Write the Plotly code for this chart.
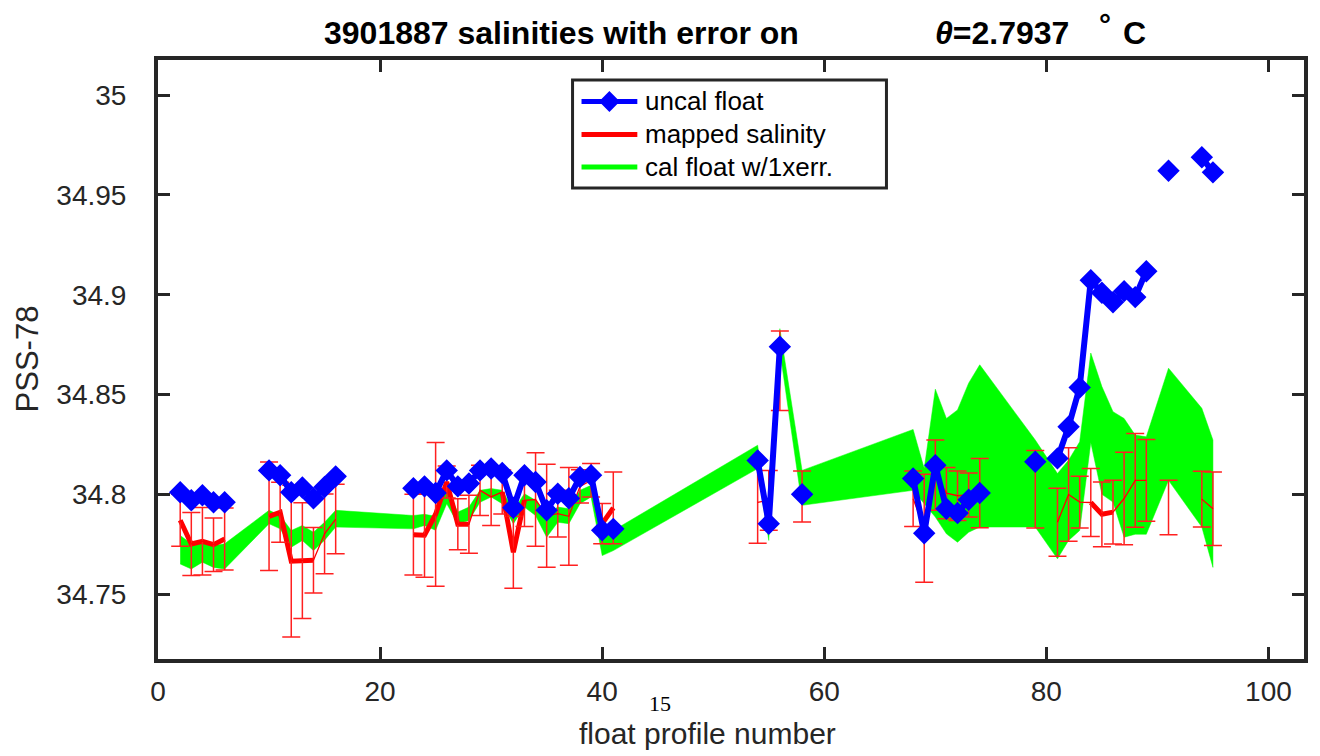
import plotly.graph_objects as go

# ---------------- data ----------------
profiles = [2, 3, 4, 5, 6,
            10, 11, 12, 13, 14, 15, 16,
            23, 24, 25, 26, 27, 28, 29, 30, 31, 32, 33, 34, 35, 36, 37, 38, 39, 40, 41,
            54, 55, 56, 58,
            68, 69, 70, 71, 72, 73, 74,
            79, 81, 82, 83, 84, 85, 86, 87, 88, 89, 91, 94, 95]

uncal_sal = [34.801, 34.797, 34.7995, 34.796, 34.796,
             34.812, 34.8096, 34.801, 34.8034, 34.798, 34.8037, 34.809,
             34.803, 34.804, 34.8007, 34.812, 34.804, 34.8054, 34.812, 34.8129, 34.8107, 34.7933,
             34.8096, 34.8062, 34.792, 34.8003, 34.798, 34.8087, 34.8096, 34.782, 34.7827,
             34.817, 34.7853, 34.874, 34.800,
             34.8079, 34.7805, 34.8146, 34.7928, 34.7906, 34.7973, 34.8007,
             34.8163, 34.818, 34.8339, 34.8535, 34.9073, 34.901, 34.8962, 34.9018, 34.8988, 34.9118,
             34.9621, 34.9689, 34.9613]

mapped_sal = [34.787, 34.7751, 34.7765, 34.7748, 34.7776,
              34.789, 34.791, 34.7665, 34.7668, 34.767, 34.7802, 34.7876,
              34.7798, 34.7795, 34.790, 34.8062, 34.785, 34.785, 34.802, 34.7987, 34.8012, 34.771,
              34.797, 34.7974, 34.7893, 34.7903, 34.789, 34.804, 34.807, 34.7853, 34.7932,
              34.796, 34.797, 34.8619, 34.7989,
              34.7978, 34.783, 34.8096, 34.8006, 34.7993, 34.7997, 34.8006,
              34.8025, 34.786, 34.7999, 34.7961, 34.7959, 34.790, 34.7911, 34.7979, 34.807, 34.807,
              34.7934, 34.7976, 34.7928]

mapped_err = [0.013, 0.0158, 0.0169, 0.0134, 0.0155,
              0.0272, 0.015, 0.038, 0.029, 0.0164, 0.020, 0.0174,
              0.0202, 0.021, 0.036, 0.008, 0.0128, 0.0145, 0.0126, 0.0143, 0.011, 0.018,
              0.0131, 0.0234, 0.0258, 0.0117, 0.0245, 0.0083, 0.0084, 0.0101, 0.018,
              0.0205, 0.015, 0.0199, 0.0128,
              0.0139, 0.027, 0.0176, 0.0128, 0.0124, 0.011, 0.0174,
              0.0194, 0.017, 0.0234, 0.013, 0.017, 0.0162, 0.016, 0.0232, 0.0235, 0.0205,
              0.0137, 0.014, 0.0184]

cal_upper = [34.7794, 34.7752, 34.776, 34.7743, 34.7752,
             34.792, 34.7894, 34.7819, 34.7844, 34.781, 34.786, 34.792,
             34.7894, 34.790, 34.789, 34.8029, 34.7911, 34.7936, 34.802, 34.8029, 34.802, 34.792,
             34.8003, 34.797, 34.790, 34.7936, 34.7928, 34.802, 34.8045, 34.7802, 34.7819,
             34.8246, 34.787, 34.883, 34.812,
             34.8325, 34.8129, 34.8527, 34.838, 34.8423, 34.8557, 34.8649,
             34.8272, 34.8104, 34.8171, 34.8263, 34.8708, 34.854, 34.8414, 34.838, 34.8297, 34.8288,
             34.8632, 34.8431, 34.8272]

cal_lower = [34.7651, 34.7626, 34.766, 34.7634, 34.7626,
             34.7853, 34.7827, 34.7735, 34.7769, 34.7718, 34.777, 34.7836,
             34.7827, 34.7844, 34.782, 34.7953, 34.7853, 34.7869, 34.796, 34.7987, 34.7953, 34.7853,
             34.7936, 34.7894, 34.7785, 34.786, 34.7853, 34.7953, 34.7987, 34.7693, 34.7718,
             34.8129, 34.7769, 34.872, 34.7945,
             34.802, 34.7953, 34.7886, 34.7802, 34.776, 34.781, 34.7836,
             34.7836, 34.7677, 34.7769, 34.7819, 34.826, 34.800, 34.7961, 34.7785, 34.780, 34.780,
             34.807, 34.7836, 34.7634]

# profile ranges where the mapped-salinity line is drawn thick
thick_ranges = [(2, 6), (10, 14), (23, 28), (31, 33), (40, 41), (84, 86)]

x_ticks = [0, 20, 40, 60, 80, 100]
y_ticks = [34.75, 34.8, 34.85, 34.9, 34.95, 35.0]
y_tick_text = ["34.75", "34.8", "34.85", "34.9", "34.95", "35"]

legend_labels = ["uncal float", "mapped salinity", "cal float w/1xerr."]
legend_colors = ["#0000ff", "#ff0000", "#00ff00"]

# ---------------- helpers ----------------
def with_gaps(xs, *cols):
    ox, oc = [], [[] for _ in cols]
    for i, xv in enumerate(xs):
        if i > 0 and xv - xs[i - 1] > 1:
            ox.append(None)
            for c in oc:
                c.append(None)
        ox.append(xv)
        for c, src in zip(oc, cols):
            c.append(src[i])
    return [ox] + oc

gx, g_uncal, g_map, g_err = with_gaps(profiles, uncal_sal, mapped_sal, mapped_err)

thick_x, thick_y = [], []
for a, b in thick_ranges:
    for xv, yv in zip(profiles, mapped_sal):
        if a <= xv <= b:
            thick_x.append(xv)
            thick_y.append(yv)
    thick_x.append(None)
    thick_y.append(None)

L, R, T, B = 158, 12, 60, 97
W, H = 1320, 756
pw, ph = W - L - R, H - T - B

def px(xp):
    return (xp - L) / pw

def py(yp):
    return (H - B - yp) / ph

FONT = "Liberation Sans, Arial, Helvetica, sans-serif"
AXC = "#262626"

fig = go.Figure()

# green band (cal float +/- err)
fig.add_trace(go.Scatter(
    x=profiles + profiles[::-1], y=cal_upper + cal_lower[::-1],
    mode="lines", fill="toself", fillcolor="#00ff00",
    line=dict(color="#00ff00", width=0.5), showlegend=False, hoverinfo="skip"))

# thick mapped salinity
fig.add_trace(go.Scatter(
    x=thick_x, y=thick_y, mode="lines", showlegend=False,
    line=dict(color="#ff0000", width=5)))

# error bars with thin line
fig.add_trace(go.Scatter(
    x=gx, y=g_map, mode="lines", showlegend=False,
    line=dict(color="#ff0000", width=1.3),
    error_y=dict(type="data", array=g_err, color="#ff2020", thickness=1.5, width=9)))

# uncal float
fig.add_trace(go.Scatter(
    x=gx, y=g_uncal, mode="lines+markers", showlegend=False,
    line=dict(color="#0000ff", width=6),
    marker=dict(symbol="diamond", size=14, color="#0000ff",
                line=dict(color="#0000ff", width=3))))

axis_common = dict(
    showline=True, linewidth=4, linecolor=AXC, mirror="ticks",
    ticks="inside", ticklen=12, tickwidth=3, tickcolor=AXC,
    showgrid=False, zeroline=False,
    tickfont=dict(family=FONT, size=28, color=AXC),
)

fig.update_layout(
    width=W, height=H,
    margin=dict(l=L, r=R, t=T, b=B),
    paper_bgcolor="white", plot_bgcolor="white",
    xaxis=dict(range=[0, 103.2], tickvals=x_ticks, ticklabelstandoff=4, **axis_common),
    yaxis=dict(range=[34.7175, 35.0176], tickvals=y_ticks, ticktext=y_tick_text,
               ticklabelstandoff=22, **axis_common),
    showlegend=False,
)

# ---------------- manual legend (MATLAB style) ----------------
shapes = [dict(type="rect", xref="paper", yref="paper",
               x0=px(574), x1=px(889), y0=py(188), y1=py(80),
               line=dict(color=AXC, width=3), fillcolor="white", layer="above")]
row_y = [101.5, 134.5, 167]
ann = []
for lab, col, ry in zip(legend_labels, legend_colors, row_y):
    shapes.append(dict(type="line", xref="paper", yref="paper",
                       x0=px(583), x1=px(639), y0=py(ry), y1=py(ry),
                       line=dict(color=col, width=5 if col != "#0000ff" else 5), layer="above"))
    ann.append(dict(text=lab, x=px(645), y=py(ry), xanchor="left",
                    font=dict(family=FONT, size=26, color="black")))
# diamond marker in the legend
cx, cy, r = 611, row_y[0], 9
shapes.append(dict(type="path", xref="paper", yref="paper", layer="above",
                   path="M {a},{b} L {c},{d} L {e},{f} L {g},{h} Z".format(
                       a=px(cx), b=py(cy - r), c=px(cx + r), d=py(cy),
                       e=px(cx), f=py(cy + r), g=px(cx - r), h=py(cy)),
                   fillcolor="#0000ff", line=dict(color="#0000ff", width=2)))

ann += [
    dict(text="<b>3901887 salinities with error on</b>", x=px(563), y=py(33),
         font=dict(family=FONT, size=32, color="black")),
    dict(text="<b><i>θ</i>=2.7937</b>", x=px(1005), y=py(33),
         font=dict(family=FONT, size=32, color="black")),
    dict(text="<b>°</b>", x=px(1108), y=py(24),
         font=dict(family=FONT, size=30, color="black")),
    dict(text="<b>C</b>", x=px(1138), y=py(33),
         font=dict(family=FONT, size=32, color="black")),
    dict(text="float profile number", x=px(709), y=py(733),
         font=dict(family=FONT, size=30, color=AXC)),
    dict(text="PSS-78", x=px(27), y=py(359), textangle=-90,
         font=dict(family=FONT, size=31, color=AXC)),
    dict(text="15", x=px(662), y=py(703),
         font=dict(family="Liberation Serif, Times New Roman, serif", size=22, color="black")),
]
for a in ann:
    a.setdefault("xanchor", "center")
    a.update(xref="paper", yref="paper", showarrow=False, yanchor="middle")
fig.update_layout(annotations=ann, shapes=shapes)

fig.write_html("out.html")
